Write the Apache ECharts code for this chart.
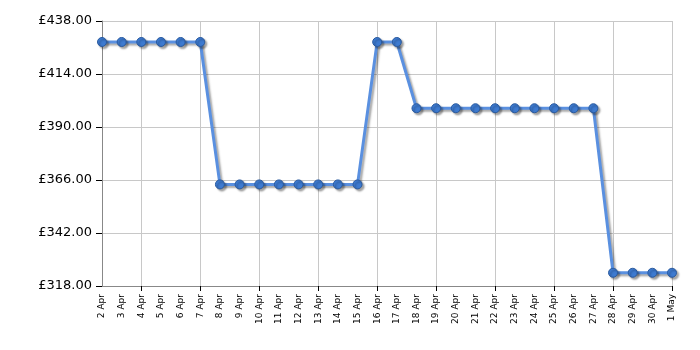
<!DOCTYPE html>
<html><head><meta charset="utf-8">
<script src="https://cdn.jsdelivr.net/npm/echarts@6/dist/echarts.min.js"></script>
<style>html,body{margin:0;padding:0;background:#fff}#c{width:700px;height:350px}</style>
</head><body><div id="c"></div>
<script>
var categories = ['2 Apr','3 Apr','4 Apr','5 Apr','6 Apr','7 Apr','8 Apr','9 Apr','10 Apr','11 Apr','12 Apr','13 Apr','14 Apr','15 Apr','16 Apr','17 Apr','18 Apr','19 Apr','20 Apr','21 Apr','22 Apr','23 Apr','24 Apr','25 Apr','26 Apr','27 Apr','28 Apr','29 Apr','30 Apr','1 May'];
var prices = [428.5,428.5,428.5,428.5,428.5,428.5,364,364,364,364,364,364,364,364,428.5,428.5,398.5,398.5,398.5,398.5,398.5,398.5,398.5,398.5,398.5,398.5,324,324,324,324];
var yMin = 318, yMax = 438, yStep = 24;

var chart = echarts.init(document.getElementById('c'), null, {renderer:'canvas'});
var tickFn = function(idx){ return idx % 3 === 2; };
chart.setOption({
  animation:false,
  grid:{left:102,right:28,top:21,bottom:64},
  xAxis:{
    type:'category', data:categories, boundaryGap:false,
    axisLine:{lineStyle:{color:'#888',width:1}},
    axisTick:{show:true,interval:tickFn,length:5,lineStyle:{color:'#000'}},
    splitLine:{show:true,interval:tickFn,lineStyle:{color:'#c8c8c8',width:1}},
    axisLabel:{interval:0,rotate:90,fontFamily:'DejaVu Sans',fontSize:9,color:'#000',margin:8}
  },
  yAxis:{
    type:'value', min:yMin, max:yMax, interval:yStep,
    axisLine:{show:true,lineStyle:{color:'#888',width:1}},
    axisTick:{show:true,length:6,lineStyle:{color:'#000'}},
    splitLine:{show:true,lineStyle:{color:'#c8c8c8',width:1}},
    axisLabel:{fontFamily:'DejaVu Sans',fontSize:13,color:'#000',margin:10,
      formatter:function(v){return '£'+v.toFixed(2);}}
  },
  series:[{
    type:'line', data:prices, symbol:'circle', symbolSize:9,
    lineStyle:{color:'#5a90e0',width:3,shadowColor:'rgba(0,0,0,0.35)',shadowBlur:2,shadowOffsetX:2,shadowOffsetY:2},
    itemStyle:{color:'#3d7ad0',borderColor:'#2a5a9e',borderWidth:1,shadowColor:'rgba(0,0,0,0.35)',shadowBlur:2,shadowOffsetX:2,shadowOffsetY:2}
  }]
});
</script></body></html>
